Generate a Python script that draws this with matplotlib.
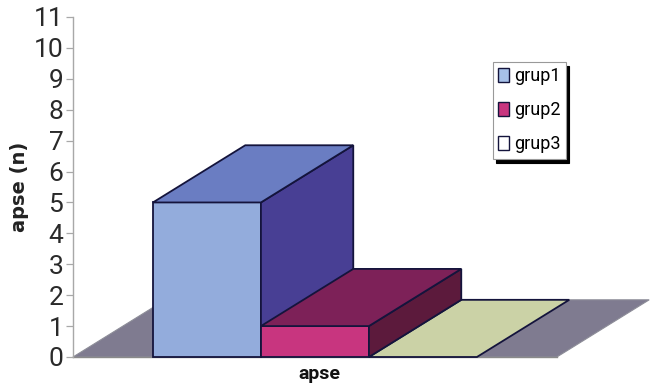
import matplotlib
matplotlib.use("Agg")
import matplotlib.pyplot as plt
from matplotlib.patches import Patch, Polygon

groups = ["grup1", "grup2", "grup3"]
values = [5, 1, 0]
y_ticks = list(range(0, 12))

front_colors = ["#93acdc", "#c8357f", "#d2d8b4"]
top_colors = ["#6a7dc2", "#7d2158", "#cbd2a6"]
side_colors = ["#483f94", "#5c1a3c", "#8a8a78"]
legend_colors = ["#a6c0e8", "#c8357f", "#ffffff"]

FLOOR_COLOR = "#7f7b90"
EDGE_COLOR = "#14143c"
BAR_WIDTH = 1.0
BAR_START = 0.74
FLOOR_WIDTH = 4.48
DEPTH_X = 0.855
DEPTH_Y = 1.85

plt.rcParams["font.family"] = ["Roboto", "DejaVu Sans"]

fig = plt.figure(figsize=(6.54, 3.84), dpi=100)
ax = fig.add_axes([73 / 654, 1 - 357 / 384, 581 / 654, 340 / 384])
ax.set_xlim(0, 581 / 108)
ax.set_ylim(0, 11)


def face(points, color, edge=EDGE_COLOR, lw=1.3, z=2):
    ax.add_patch(Polygon(points, closed=True, facecolor=color, edgecolor=edge,
                         linewidth=lw, joinstyle="miter", zorder=z, clip_on=False))


# floor of the 3D box
face([(0, 0), (FLOOR_WIDTH, 0), (FLOOR_WIDTH + DEPTH_X, DEPTH_Y), (DEPTH_X, DEPTH_Y)],
     FLOOR_COLOR, edge="#8d8d98", lw=0.8, z=1)

# left to right, so each bar covers the side wall of the previous one
for i, val in enumerate(values):
    x0 = BAR_START + i * BAR_WIDTH
    x1 = x0 + BAR_WIDTH
    z = 2 + i
    if val > 0:
        face([(x0, 0), (x1, 0), (x1, val), (x0, val)], front_colors[i], z=z)
        face([(x1, 0), (x1 + DEPTH_X, DEPTH_Y), (x1 + DEPTH_X, val + DEPTH_Y), (x1, val)],
             side_colors[i], z=z)
    face([(x0, val), (x1, val), (x1 + DEPTH_X, val + DEPTH_Y), (x0 + DEPTH_X, val + DEPTH_Y)],
         top_colors[i], z=z if val > 0 else 1.5)

for name in ["top", "right", "bottom"]:
    ax.spines[name].set_visible(False)
ax.spines["left"].set_color("#a8a8a8")
ax.spines["left"].set_linewidth(1.0)
ax.plot([0, FLOOR_WIDTH], [0, 0], color="#8a8a8a", lw=1.0, zorder=1.2, clip_on=False)

ax.set_yticks(y_ticks)
ax.tick_params(axis="y", length=5, width=0.9, color="#a8a8a8", labelsize=19,
               labelcolor="#2a2a2a", pad=2)
ax.set_xticks([])

fig.text(20 / 654, 1 - 187 / 384, "apse (n)", rotation=90, ha="center", va="center",
         fontsize=14, fontweight="bold", family=["DejaVu Sans"], color="#222222")
fig.text(319 / 654, 1 - 374 / 384, "apse", ha="center", va="center",
         fontsize=14, fontweight="bold", color="#111111")

handles = [Patch(facecolor=c, edgecolor=EDGE_COLOR, linewidth=1.0) for c in legend_colors]
leg = ax.legend(handles, groups, loc="upper left", bbox_to_anchor=(493 / 654, 1 - 62 / 384),
                bbox_transform=fig.transFigure, fontsize=13, frameon=True, fancybox=False,
                shadow={"ox": 2.5, "oy": -3, "color": "#000000", "alpha": 1.0},
                edgecolor="#999999", framealpha=1.0, borderpad=0.3, labelspacing=0.88,
                handlelength=0.56, handleheight=0.85, handletextpad=0.3, borderaxespad=0)
leg.get_frame().set_linewidth(0.8)
leg.set_zorder(10)

fig.savefig("out.png", dpi=100)
plt.close(fig)
